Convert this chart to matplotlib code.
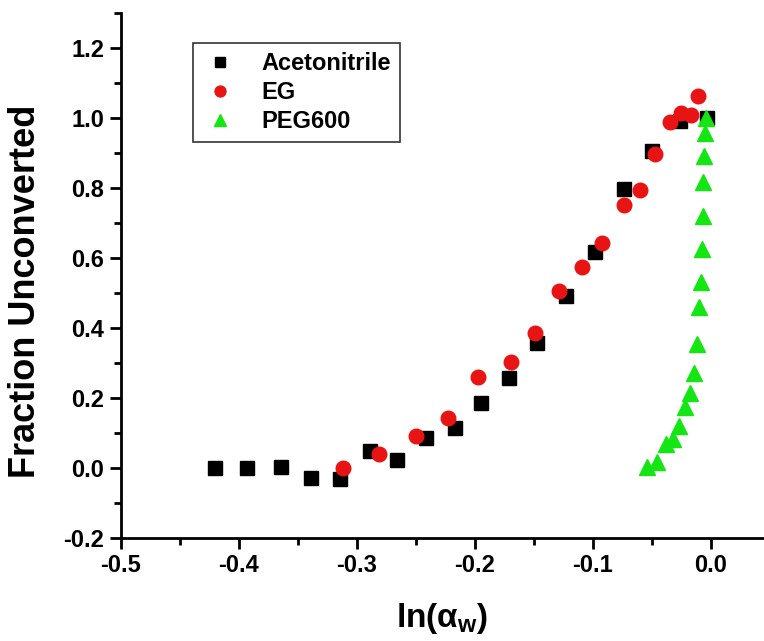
import matplotlib
matplotlib.use("Agg")
import matplotlib.pyplot as plt
from matplotlib.ticker import MultipleLocator

plt.rcParams['font.family'] = ['Liberation Sans', 'DejaVu Sans']
plt.rcParams['mathtext.fontset'] = 'custom'
plt.rcParams['mathtext.rm'] = 'Liberation Sans:bold'

# Acetonitrile
acn_x = [-0.4205, -0.3926, -0.3646, -0.339, -0.314, -0.289, -0.266, -0.241, -0.217,
         -0.195, -0.171, -0.147, -0.123, -0.098, -0.074, -0.050, -0.026, -0.0034]
acn_y = [0.0, 0.0, 0.003, -0.029, -0.031, 0.049, 0.023, 0.086, 0.114,
         0.186, 0.257, 0.357, 0.491, 0.617, 0.797, 0.906, 0.991, 1.0]

# EG
eg_x = [-0.312, -0.281, -0.250, -0.223, -0.197, -0.169, -0.149, -0.129, -0.109,
        -0.092, -0.074, -0.060, -0.047, -0.035, -0.025, -0.017, -0.011]
eg_y = [0.0, 0.04, 0.091, 0.143, 0.26, 0.303, 0.386, 0.506, 0.574,
        0.643, 0.751, 0.794, 0.897, 0.989, 1.014, 1.009, 1.063]

# PEG600
peg_x = [-0.0042, -0.0051, -0.006, -0.0068, -0.0068, -0.0076, -0.0085, -0.0102, -0.012,
         -0.0144, -0.018, -0.022, -0.027, -0.032, -0.038, -0.046, -0.054]
peg_y = [1.0, 0.957, 0.891, 0.817, 0.72, 0.626, 0.531, 0.46, 0.354,
         0.271, 0.214, 0.174, 0.12, 0.083, 0.069, 0.017, 0.003]

labels = ['Acetonitrile', 'EG', 'PEG600']
xticks = [-0.5, -0.4, -0.3, -0.2, -0.1, 0.0]
xticklabels = ['-0.5', '-0.4', '-0.3', '-0.2', '-0.1', '0.0']
yticks = [-0.2, 0.0, 0.2, 0.4, 0.6, 0.8, 1.0, 1.2]
yticklabels = ['-0.2', '0.0', '0.2', '0.4', '0.6', '0.8', '1.0', '1.2']

fig = plt.figure(figsize=(7.64, 6.41), dpi=100)
ax = fig.add_axes([0.158, 0.161, 0.842, 0.819])

ax.plot(acn_x, acn_y, 's', color='black', ms=9.5, mec='black', label=labels[0], zorder=3)
ax.plot(eg_x, eg_y, 'o', color='#e81414', ms=10.5, mec='#e81414', label=labels[1], zorder=4)
ax.plot(peg_x, peg_y, '^', color='#14e614', ms=11, mec='#14e614', label=labels[2], zorder=5)

ax.set_xlim(-0.5, 0.045)
ax.set_ylim(-0.2, 1.3)
ax.set_xticks(xticks)
ax.set_xticklabels(xticklabels)
ax.set_yticks(yticks)
ax.set_yticklabels(yticklabels)
ax.xaxis.set_minor_locator(MultipleLocator(0.05))
ax.yaxis.set_minor_locator(MultipleLocator(0.1))

for s in ['top', 'right']:
    ax.spines[s].set_visible(False)
for s in ['left', 'bottom']:
    ax.spines[s].set_linewidth(2)

ax.tick_params(which='major', direction='out', length=8, width=2, labelsize=17, pad=4)
ax.tick_params(which='minor', direction='out', length=5, width=2)
for lab in ax.get_xticklabels() + ax.get_yticklabels():
    lab.set_fontweight('bold')

ax.set_ylabel('Fraction Unconverted', fontsize=26, fontweight='bold')
ax.yaxis.set_label_coords(-0.121, 0.469)
ax.set_xlabel('ln(α$_\\mathrm{w}$)', fontsize=24, fontweight='bold', labelpad=17)

leg = ax.legend(loc='upper left', bbox_to_anchor=(0.112, 0.943), borderaxespad=0,
                frameon=True, fancybox=False, edgecolor='black',
                prop={'weight': 'bold', 'size': 17}, handletextpad=1.0,
                labelspacing=0.25, borderpad=0.4, markerscale=0.75, handlelength=1.5)
leg.get_frame().set_linewidth(1.2)

fig.savefig('out.png', dpi=100)
